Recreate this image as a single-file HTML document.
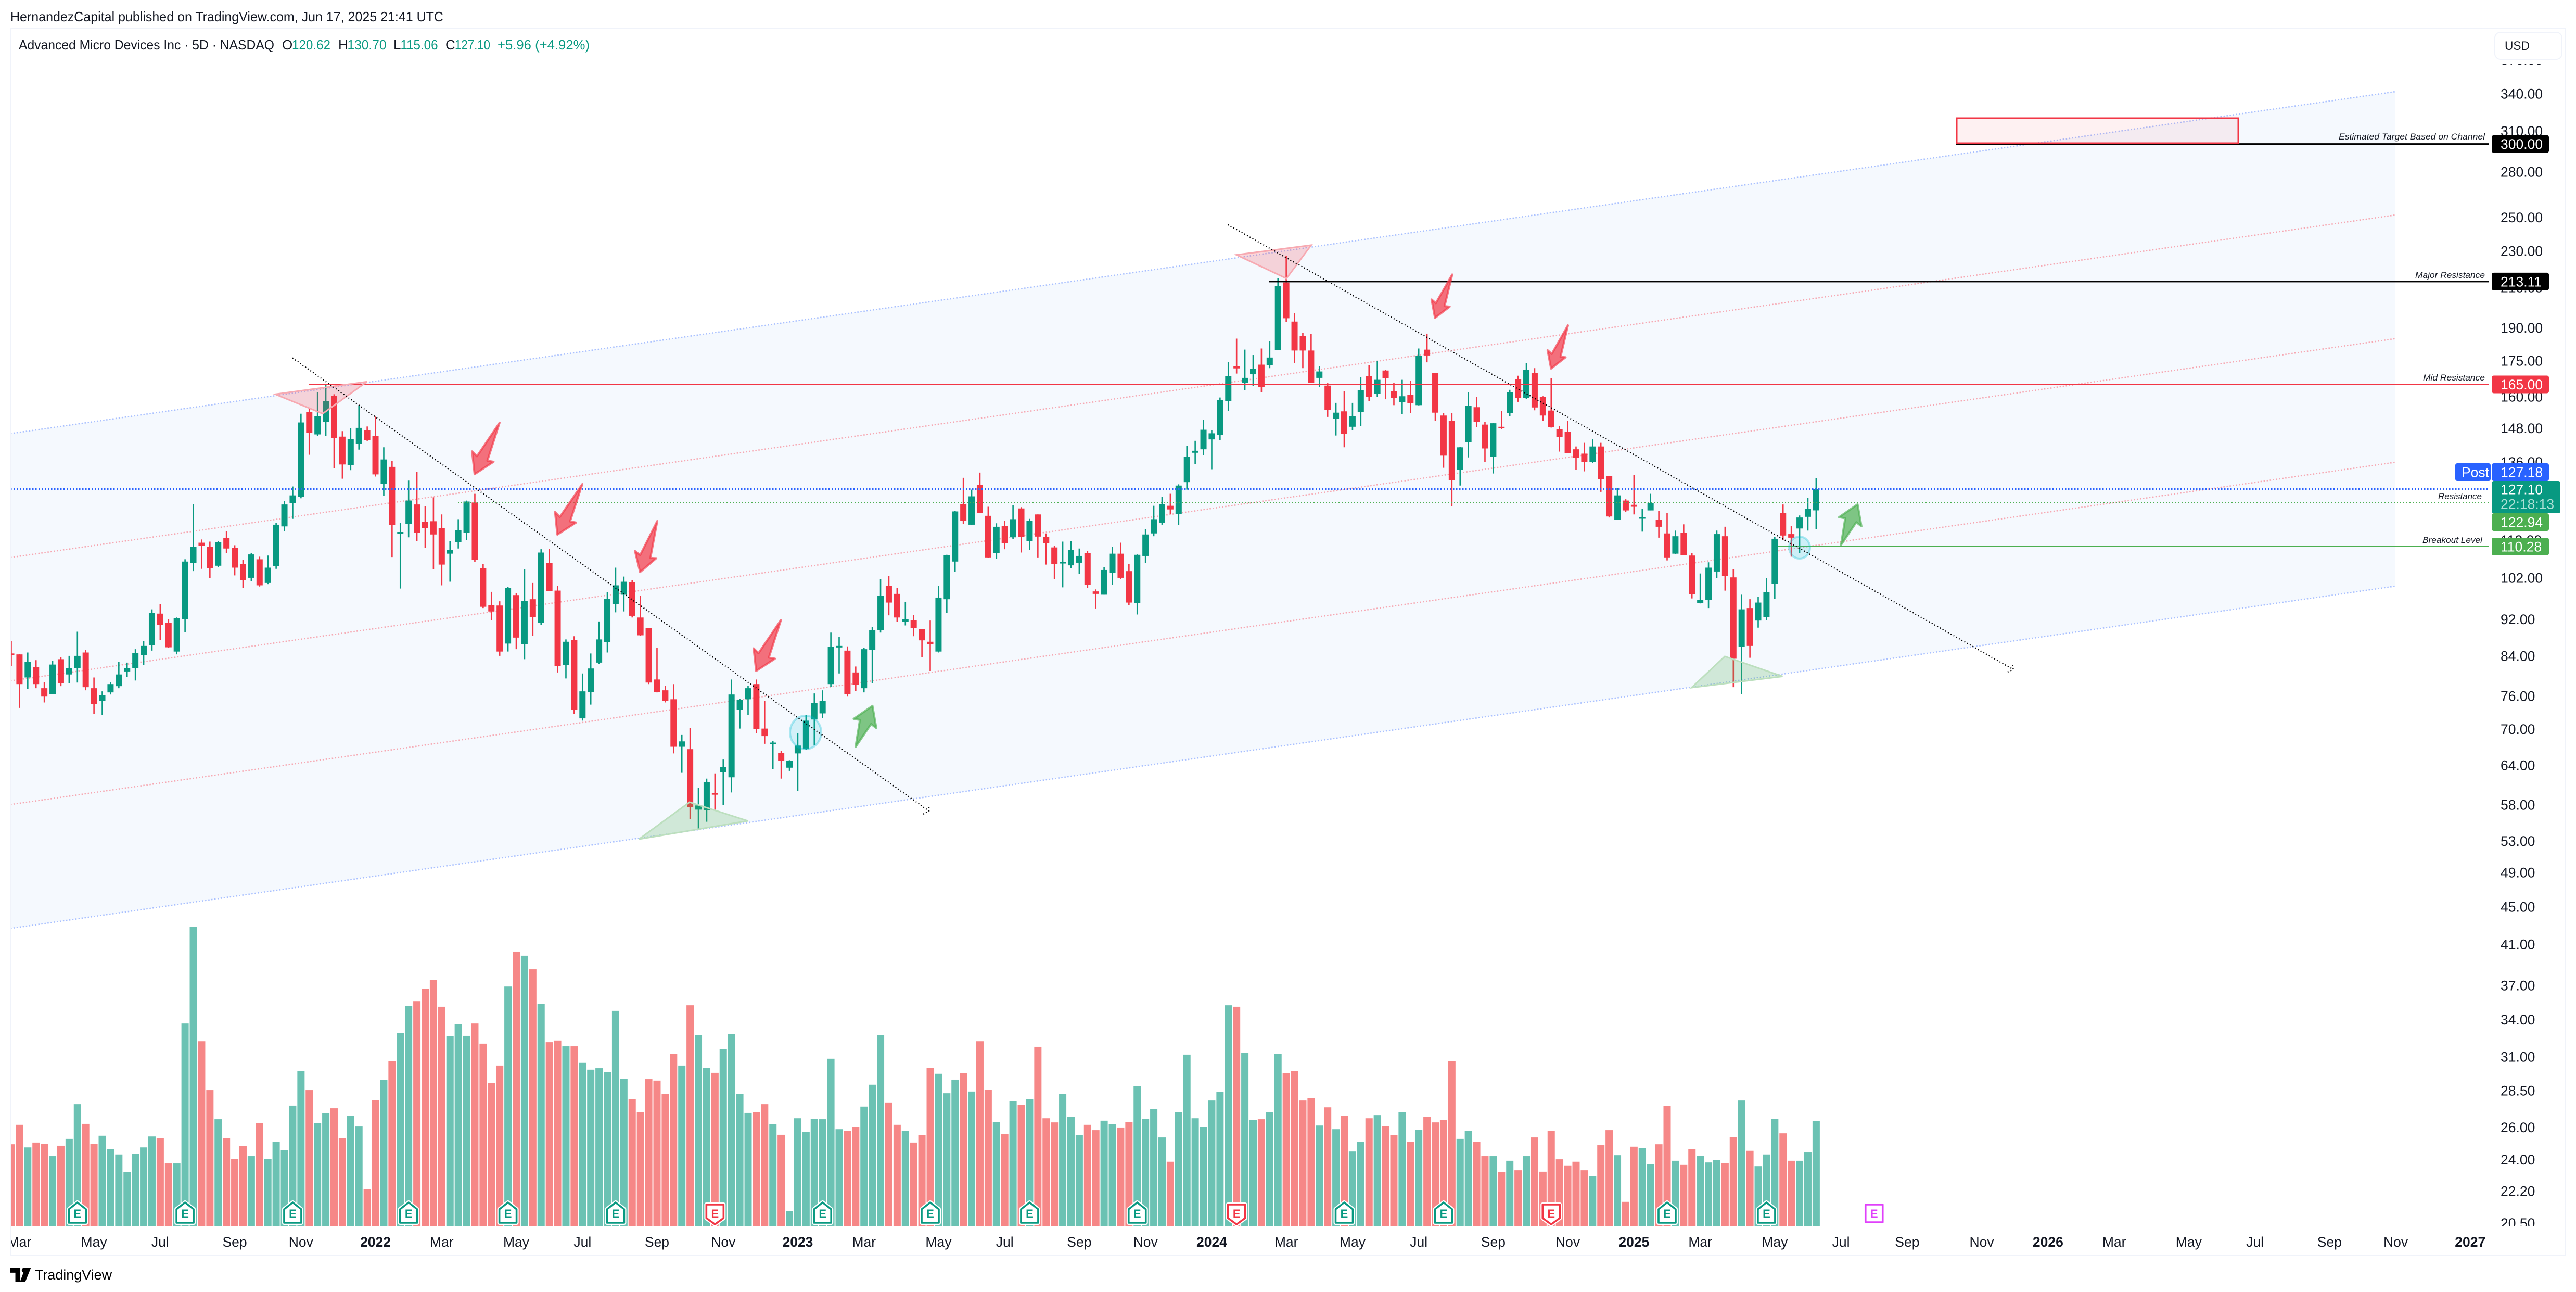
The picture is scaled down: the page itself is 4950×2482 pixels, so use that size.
<!DOCTYPE html>
<html lang="en">
<head>
<meta charset="utf-8">
<title>Advanced Micro Devices Inc - 5D - NASDAQ</title>
<style>
html,body{margin:0;padding:0;background:#fff;width:4950px;height:2482px;overflow:hidden}
svg{display:block;font-family:"Liberation Sans",sans-serif}
</style>
</head>
<body>
<svg id="chart" xmlns="http://www.w3.org/2000/svg" width="4950" height="2482" viewBox="0 0 4950 2482">
<defs>
<clipPath id="pane-clip"><rect x="22" y="56" width="4760" height="2299"/></clipPath>
<clipPath id="vol-clip"><rect x="22" y="1700" width="4760" height="655"/></clipPath>
<clipPath id="axis-clip"><rect x="4790" y="122" width="140" height="2233"/></clipPath>
<clipPath id="time-clip"><rect x="22" y="2360" width="4900" height="50"/></clipPath>
</defs>
<rect x="0" y="0" width="4950" height="2482" fill="#ffffff"/>
<rect x="20.5" y="54.5" width="4909" height="2357" fill="none" stroke="#f0f3fa" stroke-width="3"/>

<text x="20" y="41" font-size="26" fill="#131722" textLength="832" lengthAdjust="spacingAndGlyphs">HernandezCapital published on TradingView.com, Jun 17, 2025 21:41 UTC</text>

<g font-size="26">
<text x="36" y="95" fill="#131722" textLength="491" lengthAdjust="spacingAndGlyphs">Advanced Micro Devices Inc · 5D · NASDAQ</text>
<text x="542" y="95" fill="#131722">O</text>
<text x="561" y="95" fill="#089981" textLength="74" lengthAdjust="spacingAndGlyphs">120.62</text>
<text x="650" y="95" fill="#131722">H</text>
<text x="667.5" y="95" fill="#089981" textLength="75" lengthAdjust="spacingAndGlyphs">130.70</text>
<text x="756" y="95" fill="#131722">L</text>
<text x="769.5" y="95" fill="#089981" textLength="72" lengthAdjust="spacingAndGlyphs">115.06</text>
<text x="856" y="95" fill="#131722">C</text>
<text x="874" y="95" fill="#089981" textLength="68" lengthAdjust="spacingAndGlyphs">127.10</text>
<text x="956" y="95" fill="#089981" textLength="177" lengthAdjust="spacingAndGlyphs">+5.96 (+4.92%)</text>
</g>

<g id="pane" clip-path="url(#pane-clip)">
<polygon points="20,833 4603,176 4603,1126 20,1783.6" fill="#f5f9fe"/>
<g fill="none" stroke-width="2.6" stroke-dasharray="2.5 3.5">
<line x1="20" y1="833" x2="4603" y2="176" stroke="#a9c0ff"/>
<line x1="20" y1="1071" x2="4603" y2="413" stroke="#f6a8b2"/>
<line x1="20" y1="1308" x2="4603" y2="650.5" stroke="#f6a8b2"/>
<line x1="20" y1="1545.6" x2="4603" y2="888" stroke="#f6a8b2"/>
<line x1="20" y1="1783.6" x2="4603" y2="1126" stroke="#a9c0ff"/>
</g>
<g id="volumes" clip-path="url(#vol-clip)"></g>
<g id="candles"></g>
<g id="levels"></g>
<g>
<rect x="3760" y="227" width="541" height="48" fill="#f23645" fill-opacity="0.07" stroke="#f23645" stroke-width="3"/>
<polygon points="529,757.4 705,733.3 620,794.7" fill="#f23645" fill-opacity="0.2" stroke="#f7a9b1" stroke-width="3"/>
<polygon points="2376,489.6 2519.5,471 2472,535" fill="#f23645" fill-opacity="0.2" stroke="#f7a9b1" stroke-width="3"/>
<polygon points="1228,1612 1325,1541 1437,1577" fill="#4caf50" fill-opacity="0.22" stroke="#bcdfbe" stroke-width="3"/>
<polygon points="3250.6,1321 3314.4,1261 3425.4,1299.4" fill="#4caf50" fill-opacity="0.22" stroke="#bcdfbe" stroke-width="3"/>
<ellipse cx="1548" cy="1407" rx="30" ry="32" fill="#00bcd4" fill-opacity="0.14" stroke="#00bcd4" stroke-opacity="0.3" stroke-width="4"/>
<ellipse cx="3458" cy="1052" rx="20" ry="21" fill="#00bcd4" fill-opacity="0.16" stroke="#00bcd4" stroke-opacity="0.3" stroke-width="4"/>
<g fill="none" stroke="#000" stroke-width="2.4" stroke-dasharray="2 4">
<line x1="562" y1="687.5" x2="1785" y2="1558"/>
<polyline points="1774,1564 1785,1558 1785,1549"/>
<line x1="2359.5" y1="431.6" x2="3868.6" y2="1286"/>
<polyline points="3857.8,1291 3868.6,1286 3867.4,1275.6"/>
</g>
<g id="arrows"></g>
</g>
</g>

<g id="price-axis" clip-path="url(#axis-clip)" font-size="26.5" fill="#131722"></g>
<g id="badges" font-size="26.5"></g>

<g>
<rect x="4794" y="62" width="129" height="52" rx="11" fill="#fff" stroke="#f0f3fa" stroke-width="2"/>
<text x="4813" y="96" font-size="24" fill="#131722" textLength="48" lengthAdjust="spacingAndGlyphs">USD</text>
</g>

<g font-size="17" font-style="italic" fill="#131722" text-anchor="end">
<text x="4775" y="268" textLength="281" lengthAdjust="spacingAndGlyphs">Estimated Target Based on Channel</text>
<text x="4775" y="534" textLength="134" lengthAdjust="spacingAndGlyphs">Major Resistance</text>
<text x="4775" y="731" textLength="119" lengthAdjust="spacingAndGlyphs">Mid Resistance</text>
<text x="4769" y="959" textLength="84" lengthAdjust="spacingAndGlyphs">Resistance</text>
<text x="4770" y="1043" textLength="115" lengthAdjust="spacingAndGlyphs">Breakout Level</text>
</g>

<g id="earnings"></g>
<g id="time-axis" clip-path="url(#time-clip)" font-size="26.5" fill="#131722" text-anchor="middle"></g>

<g>
<g transform="translate(20,2434) scale(1.36)" fill="#000">
<path d="M14 1H0v7h7v13h7z"/><circle cx="19.5" cy="4.5" r="3.5"/><path d="M29 1h-8l-7.5 20H21z"/>
</g>
<text x="67" y="2458" font-size="27" fill="#000" textLength="148" lengthAdjust="spacingAndGlyphs">TradingView</text>
</g>
</svg>

<script>
const opens=[84.5,84.3,79.6,81.7,77.5,76.4,83.3,80.2,81.5,84.7,
77.5,75.1,76.7,77.9,80.8,81.5,84.2,86.3,93.3,91.2,
84.9,92.0,105.8,111.3,110.1,105.1,112.6,109.9,105.5,102.0,
106.8,100.7,105.0,115.9,122.8,124.8,154.0,145.7,150.3,160.3,
144.9,135.0,142.4,147.3,145.1,128.8,134.4,114.1,116.6,122.4,
117.2,117.4,115.4,108.3,111.4,114.1,123.0,104.4,95.3,95.2,
86.6,97.7,86.5,96.7,91.2,105.8,98.8,82.1,87.4,71.9,
76.8,82.6,86.9,95.6,97.8,100.9,92.4,90.0,79.2,77.1,
75.4,67.0,66.6,57.3,57.2,59.7,62.9,62.1,73.5,75.4,
78.3,70.1,67.6,66.0,63.6,65.9,66.6,71.7,72.8,78.3,
85.9,85.1,80.6,77.5,85.2,89.6,100.0,98.0,91.4,91.8,
89.8,87.0,84.9,96.7,106.2,122.5,116.4,128.5,119.0,108.5,
116.0,112.8,121.2,111.8,119.4,112.9,110.0,105.8,105.2,105.9,
108.5,98.6,97.8,103.2,108.3,103.7,95.8,107.7,113.9,117.0,
122.0,119.6,129.4,139.2,140.4,143.9,145.6,158.3,172.6,165.7,
169.2,173.3,173.0,179.6,212.6,192.9,186.0,179.5,167.7,164.5,
151.4,154.3,148.5,154.0,168.4,161.1,170.8,162.3,157.8,160.8,
156.7,179.9,169.7,152.7,150.6,133.4,142.9,155.9,149.3,137.8,
148.5,153.7,167.2,159.5,169.7,160.0,154.6,147.7,146.6,140.4,
138.9,136.0,141.4,131.4,117.8,123.6,122.3,118.4,120.6,117.8,
113.9,108.3,114.1,107.8,95.8,96.5,103.6,113.1,102.1,85.9,
94.6,91.7,92.5,100.5,119.8,113.7,115.3,118.7,120.62];
const closes=[84.3,78.3,82.7,78.3,75.9,82.2,78.5,81.5,84.0,77.7,
74.5,76.2,78.3,80.2,81.5,84.6,86.1,93.4,90.7,85.8,
92.2,106.2,110.1,110.4,104.4,111.4,109.7,104.6,101.4,108.1,
100.1,104.6,116.4,122.4,125.2,150.1,146.2,152.4,158.2,144.4,
135.2,144.1,148.1,143.6,131.9,136.9,116.3,114.3,123.6,114.1,
115.4,113.6,105.4,109.3,114.8,123.3,106.6,94.9,93.8,84.9,
99.5,87.9,96.3,92.5,108.6,98.7,81.9,87.0,73.5,76.9,
81.4,87.5,96.8,100.1,101.0,92.8,88.4,78.6,76.8,75.1,
67.0,67.9,57.7,57.9,61.4,59.6,63.7,76.3,75.3,77.5,
70.0,68.8,67.7,64.7,64.7,67.2,71.5,74.7,75.1,85.9,
86.1,76.4,78.2,85.4,89.6,97.6,95.9,92.4,92.0,90.0,
87.3,86.5,97.1,107.9,120.3,117.6,124.9,119.9,107.3,115.8,
111.2,118.0,112.9,117.5,113.0,111.2,105.5,106.1,109.3,107.7,
100.2,98.0,104.0,108.3,102.0,95.9,108.0,113.6,118.0,122.5,
120.9,128.3,137.8,139.9,147.4,146.1,158.6,168.4,171.7,167.7,
171.6,164.0,176.4,210.7,194.5,179.5,179.5,165.7,170.4,154.8,
153.8,145.8,152.4,162.6,160.0,166.9,167.5,159.5,160.2,157.4,
177.1,177.3,153.8,138.2,130.0,141.1,156.4,150.3,140.7,149.8,
148.2,161.9,159.5,171.0,155.8,152.7,148.4,144.8,139.0,137.5,
136.0,141.4,130.3,118.8,125.2,120.6,121.7,118.6,122.8,115.8,
107.3,113.1,107.9,97.9,96.5,104.6,113.7,102.5,83.4,94.3,
86.1,95.9,98.4,112.4,113.3,112.7,118.5,121.0,127.10];
const highs=[87.1,84.4,84.7,83.1,78.7,83.0,83.7,84.0,89.2,85.3,
79.6,76.9,78.7,82.8,82.6,85.4,87.2,94.3,95.5,92.0,
92.4,106.8,122.5,112.2,111.6,111.8,114.5,110.6,106.7,108.5,
107.5,107.8,116.9,123.5,128.0,153.4,155.5,161.7,164.7,161.0,
146.9,148.0,156.6,148.6,152.3,141.1,136.4,117.0,129.9,132.8,
121.8,124.6,119.4,111.8,118.0,123.6,125.7,105.6,98.5,96.2,
99.7,98.2,104.2,100.7,109.5,109.6,100.0,87.5,88.2,80.4,
84.5,91.5,98.4,104.6,102.3,101.4,97.6,90.0,85.7,78.0,
78.3,69.0,70.2,60.5,61.9,62.7,64.9,79.2,75.5,78.0,
79.2,75.1,68.0,66.3,64.8,69.3,72.5,76.5,77.1,89.0,
88.0,86.0,81.8,85.7,90.3,101.6,102.4,99.4,96.1,93.0,
89.8,91.7,100.0,108.0,120.5,130.8,127.0,132.5,121.7,116.8,
117.6,122.2,121.6,118.1,119.4,113.9,110.4,111.6,111.8,109.7,
109.1,99.1,104.8,110.1,111.3,105.5,108.1,115.2,122.0,124.7,
125.7,128.7,141.7,143.4,151.1,147.2,159.7,174.4,184.9,179.9,
177.5,180.4,183.8,214.8,227.1,196.9,187.6,187.2,172.6,165.5,
157.6,162.2,157.6,168.0,173.0,174.8,171.0,165.7,166.9,166.5,
180.4,187.2,169.7,153.7,153.7,141.2,161.9,160.0,150.4,150.0,
154.5,162.8,168.6,173.9,171.8,160.2,167.5,148.7,150.6,141.4,
142.7,144.0,142.7,131.4,127.5,124.0,131.7,121.1,125.7,120.4,
119.8,114.7,116.5,108.5,103.1,106.0,114.7,115.8,104.2,97.8,
96.7,97.3,102.0,112.9,122.4,116.0,119.1,124.4,130.70];
const lows=[81.9,73.8,77.4,77.5,74.8,76.4,77.9,78.5,78.6,77.1,
72.7,72.5,76.3,77.5,79.7,79.0,82.1,85.1,87.4,85.7,
84.3,89.1,103.7,104.3,101.9,104.8,108.5,102.6,99.5,101.1,
99.8,100.4,104.3,114.5,118.1,124.3,138.5,145.2,145.2,134.0,
130.5,133.3,140.3,143.4,131.2,125.0,107.4,99.3,112.8,111.8,
109.9,104.2,100.1,101.0,109.7,112.1,106.1,94.6,91.8,84.0,
84.9,85.4,83.3,88.3,90.7,98.7,80.6,79.4,72.7,71.5,
74.4,82.3,84.7,93.6,93.8,92.4,88.3,78.3,76.7,74.8,
65.9,62.8,56.0,54.5,55.6,57.3,58.0,59.8,70.1,72.5,
69.3,67.5,63.4,61.9,63.1,60.0,66.5,67.3,72.0,77.8,
80.4,75.9,77.0,76.7,78.5,89.0,92.9,91.4,90.6,88.2,
83.7,80.9,84.7,93.5,103.5,116.6,116.4,119.8,107.2,107.0,
109.5,112.4,108.6,109.3,107.3,105.4,101.6,99.6,104.4,103.0,
99.5,94.5,97.8,100.2,101.6,95.3,93.1,105.8,113.1,116.4,
119.5,116.3,127.0,135.3,138.3,133.6,143.6,154.5,169.5,162.6,
164.3,161.8,171.8,179.6,192.6,173.9,171.8,165.7,163.9,152.2,
145.3,141.1,147.2,148.7,158.3,160.0,159.0,156.7,153.2,153.7,
156.6,174.3,150.6,134.1,121.9,128.3,137.6,148.4,136.0,132.2,
147.7,152.4,158.0,159.2,154.7,150.6,148.2,139.6,139.0,133.4,
132.9,135.7,126.3,118.5,117.8,120.1,119.4,114.4,120.6,112.7,
106.5,108.2,107.9,96.9,95.7,94.6,101.9,98.8,77.7,76.4,
83.6,90.1,91.8,96.8,112.0,107.5,108.5,114.7,115.06];
const volumes=[33.6,41.6,32.3,34.3,33.8,28.7,33,35.8,50.1,42,
33.8,37.1,31.7,29.4,22.1,29.6,32.3,36.8,36.2,25.7,
25.7,83.3,123,76,55.9,43.9,36,27.6,32.8,28.7,
42.4,27.6,34.5,31.1,49.5,63.8,55.9,42.4,46.3,48.4,
36.2,45.4,40.9,15,51.8,60,67.9,79.3,90.6,92.5,
97.5,101.3,90.2,78,83.1,78.2,83.3,75,58.7,66,
98.5,112.9,111.2,105.6,91.3,75.6,76.3,73.9,73.9,67.1,
64.3,64.9,63.2,88.5,60.6,52.1,46.9,60.4,59.8,54.4,
70.9,66,90.8,78.6,65.1,63,72.8,79,54.2,46.5,
46.7,50.1,41.8,37.5,6,44.3,38.6,44.1,43.9,68.8,
39.8,39,40.7,49.1,58.1,78.6,50.8,41.6,39,34.3,
37.3,65.1,62.6,54.6,60.2,62.8,55.3,76,56.1,42.8,
37.7,51.4,49.7,52.1,73.7,44.3,42.6,54.4,44.8,37.3,
41.6,39.4,43.3,41.8,40.5,42.8,57.6,44.1,48,36.4,
26.4,46.7,70.5,44.3,40.7,51.6,55.1,90.8,90.2,71.3,
43.5,43.9,46.7,70.7,62.8,63.8,51.6,52.5,41.3,48.8,
39.8,45.2,30.6,34.5,44.3,45.6,41.1,37.3,46.9,34.7,
39.6,44.8,42.6,43.5,67.7,35.8,39.2,34.5,28.7,28.7,
22.1,26.8,22.9,28.7,36.4,22.3,39.2,27.4,24.9,26.4,
22.9,20.4,33.2,39.4,29.1,9.9,32.6,32.1,25.3,33.6,
49.3,26.8,25.1,31.7,28.9,26.1,27,25.9,36.6,51.6,
30.9,24.6,29.4,44.1,38.1,26.8,26.8,30.2,43.1];
const priceTicks=[370,340,310,280,250,230,210,190,175,160,148,136,124,112,102,92,84,76,70,64,58,53,49,45,41,37,34,31,28.5,26,24,22.2,20.5];
const timeLabels=["Mar","May","Jul","Sep","Nov","2022","Mar","May","Jul","Sep","Nov","2023","Mar","May","Jul","Sep","Nov","2024","Mar","May","Jul","Sep","Nov","2025","Mar","May","Jul","Sep","Nov","2026","Mar","May","Jul","Sep","Nov","2027"];
const timeBars=[1,10,18,27,35,44,52,61,69,78,86,95,103,112,120,129,137,145,154,162,170,179,188,196,204,213,221,229,238,246,254,263,271,280,288,297];
const beatEarnings=[8,21,34,48,60,73,98,111,123,136,161,173,200,212];
const missEarnings=[85,148,186];
const nextEarnings=[225];
const targetLevel=[300];
const majorResistance=[213.11];
const midResistance=[165];
const resistanceLevel=[122.94];
const breakoutLevel=[110.28];
const postPrice=[127.18];
const lastPrice=[127.10];

const NS="http://www.w3.org/2000/svg";
const GREEN="#089981", RED="#f23645", VOL_GREEN="#6bc2b3", VOL_RED="#f68787";
const yPrice=p=>180+772.4*Math.log(340/p);
const xBar=i=>21.5+15.91*i;
const yVolume=v=>2355-v*4.668;
function mk(tag,parent){const e=document.createElementNS(NS,tag);parent.appendChild(e);return e;}
function set(e,o){for(const k in o)e.setAttribute(k,o[k]);return e;}

const volG=document.getElementById('volumes');
volumes.forEach((v,i)=>{
  const r=mk('rect',volG);
  
  
  const y=yVolume(v);
  set(r,{x:xBar(i)-7,y:y,width:14,height:2355-y,fill:closes[i]>=opens[i]?VOL_GREEN:VOL_RED});
});

const candG=document.getElementById('candles');
opens.forEach((o,i)=>{
  const c=closes[i],col=c>=o?GREEN:RED,x=xBar(i);
  const w=mk('line',candG);
  
  
  set(w,{x1:x,x2:x,y1:yPrice(highs[i]),y2:yPrice(lows[i]),stroke:col,'stroke-width':2.6});
  const b=mk('rect',candG);
  
  
  const top=yPrice(Math.max(o,c)),h=Math.max(3,yPrice(Math.min(o,c))-top);
  set(b,{x:x-6,y:top,width:12,height:h,fill:col});
});

const lvlG=document.getElementById('levels');
function hline(name,price,x1,x2,col,sw,dash){
  const l=mk('line',lvlG);
  
  
  const y=yPrice(price);
  set(l,{x1:x1,x2:x2,y1:y,y2:y,stroke:col,'stroke-width':sw});
  if(dash)l.setAttribute('stroke-dasharray',dash);
}
hline('target-line',targetLevel[0],3759,4786,'#000',3);
hline('major-resistance-line',majorResistance[0],2439,4786,'#000',3);
hline('mid-resistance-line',midResistance[0],593,4786,RED,3);
hline('resistance-line',resistanceLevel[0],880,4782,'#4caf50',2.2,'2 4');
hline('breakout-line',breakoutLevel[0],3416,4786,'#4caf50',2.2);
hline('post-market-line',postPrice[0],20,4786,'#2962ff',3,'2.5 3.5');

const axG=document.getElementById('price-axis');
priceTicks.forEach(p=>{
  const t=mk('text',axG);
  
  
  set(t,{x:4805,y:yPrice(p)+9.5});
  t.textContent=p.toFixed(2);
});

const badG=document.getElementById('badges');
function badge(name,x,y,w,h,fill,text,tx,tcol){
  const r=mk('rect',badG);
  
  
  set(r,{x:x,y:y,width:w,height:h,rx:4,fill:fill});
  if(text){
    const t=mk('text',badG);
    
    
    set(t,{x:tx,y:y+h/2+9.5,fill:tcol||'#fff'});
    t.textContent=text;
  }
}
badge('target-price-badge',4788,yPrice(targetLevel[0])-17,110,34,'#000',targetLevel[0].toFixed(2),4805);
badge('major-resistance-badge',4788,yPrice(majorResistance[0])-17,110,34,'#000',majorResistance[0].toFixed(2),4805);
badge('mid-resistance-badge',4788,yPrice(midResistance[0])-17,110,34,RED,midResistance[0].toFixed(2),4805);
badge('post-label',4718,890,68,34,'#2962ff','Post',4730);
badge('post-price-badge',4788,890,110,34,'#2962ff',postPrice[0].toFixed(2),4805);
badge('last-price-badge',4788,924,132,62,GREEN,lastPrice[0].toFixed(2),4805);
const lastT=badG.lastChild;
lastT.setAttribute('y',949.5);
const cd=mk('text',badG);


set(cd,{x:4805,y:977.5,fill:'#aee0d6'});
cd.textContent='22:18:13';
badge('resistance-badge',4788,986,110,34,'#4caf50',resistanceLevel[0].toFixed(2),4805);
badge('breakout-badge',4788,1033,110,34,'#4caf50',breakoutLevel[0].toFixed(2),4805);

const timeG=document.getElementById('time-axis');
timeLabels.forEach((s,i)=>{
  const t=mk('text',timeG);
  
  
  set(t,{x:xBar(timeBars[i]),y:2395});
  if(/^\d/.test(s))t.setAttribute('font-weight','bold');
  t.textContent=s;
});

const earnG=document.getElementById('earnings');
function earning(name,i,col,d,ty){
  const h=mk('path',earnG);
  
  
  set(h,{d:d,fill:'#fff',stroke:'#fff','stroke-width':8,'stroke-linejoin':'round'});
  const p=mk('path',earnG);
  
  
  set(p,{d:d,fill:'#fff',stroke:col,'stroke-width':3.6,'stroke-linejoin':'round'});
  const t=mk('text',earnG);
  
  
  set(t,{x:xBar(i),y:ty,'font-size':22,'font-weight':'bold',fill:col,'text-anchor':'middle'});
  t.textContent='E';
}
beatEarnings.forEach(i=>{const x=xBar(i);
  earning('earnings-beat-marker',i,GREEN,`M${x} 2310 L${x+16.5} 2323 V2349 H${x-16.5} V2323 Z`,2339);
});
missEarnings.forEach(i=>{const x=xBar(i);
  earning('earnings-miss-marker',i,RED,`M${x-16.5} 2314 H${x+16.5} V2340 L${x} 2352 L${x-16.5} 2340 Z`,2339);
});
nextEarnings.forEach(i=>{const x=xBar(i);
  earning('earnings-upcoming-marker',i,'#e040fb',`M${x-16.5} 2314 H${x+16.5} V2348 H${x-16.5} Z`,2339);
});

const arrG=document.getElementById('arrows');
function arrow(T,P,col,name,hf,a,b){
  const dx=P[0]-T[0],dy=P[1]-T[1],L=Math.hypot(dx,dy),ux=dx/L,uy=dy/L,nx=uy,ny=-ux,s=L/100;
  const pts=[[0,0],[hf+.03,a[0]*s],[hf,a[1]*s],[1,0],[hf,-b[1]*s],[hf+.04,-b[0]*s]].map(q=>{
    const al=q[0]*L;return (T[0]+ux*al+nx*q[1]).toFixed(1)+','+(T[1]+uy*al+ny*q[1]).toFixed(1);
  }).join(' ');
  const g=mk('polygon',arrG);
  
  
  set(g,{points:pts,fill:col,'fill-opacity':.7,stroke:col,'stroke-opacity':.65,'stroke-width':4,'stroke-linejoin':'round'});
}
[[[960,812],[912,911]],[[1119,930],[1071,1027]],[[1263,1001],[1230,1099]],[[1500.7,1191],[1453,1289]],[[2790.6,527.4],[2757.5,610.7]],[[3013,625],[2980.5,708]]]
 .forEach(a=>arrow(a[0],a[1],RED,'sell-arrow',.66,[9.8,20.3],[10,21.4]));
[[[1644,1435],[1676.5,1356]],[[3537.6,1047],[3569.5,968.8]]]
 .forEach(a=>arrow(a[0],a[1],'#4caf50','buy-arrow',.57,[14.1,28],[12.7,27]));
</script>
</body>
</html>
